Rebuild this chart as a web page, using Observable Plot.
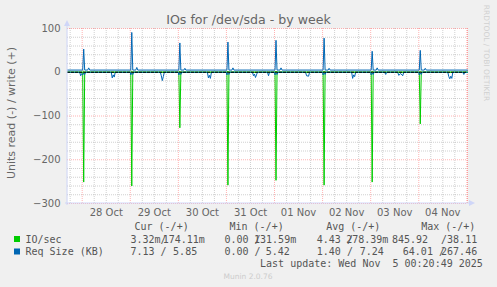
<!DOCTYPE html>
<html>
<head>
<meta charset="utf-8">
<script src="https://cdn.jsdelivr.net/npm/d3@7"></script>
<script src="https://cdn.jsdelivr.net/npm/@observablehq/plot@0.6"></script>
<style>
  html, body { margin: 0; padding: 0; background: #f0f0f0; }
  svg { display: block; }
</style>
</head>
<body>
<div id="chart"></div>
<script>
// ---------- data ----------
const timeStart = "2025-10-27T16:40Z";
const timeEnd = "2025-11-05T00:20Z";
const xTickTimes = ["2025-10-28T12:00Z","2025-10-29T12:00Z","2025-10-30T12:00Z","2025-10-31T12:00Z","2025-11-01T12:00Z","2025-11-02T12:00Z","2025-11-03T12:00Z","2025-11-04T12:00Z"];
const xTickLabels = ["28 Oct","29 Oct","30 Oct","31 Oct","01 Nov","02 Nov","03 Nov","04 Nov"];
const yTicks = [-300, -200, -100, 0, 100];
const yMinorGrid = [-280,-260,-240,-220,-180,-160,-140,-120,-80,-60,-40,-20,20,40,60,80];
const yMajorGrid = [-300,-200,-100,0,100];

// IO/sec read (plotted negative)
const ioRead = [
  ["2025-10-27T16:40Z",0],
  ["2025-10-28T00:15Z",0],["2025-10-28T00:45Z",-251],["2025-10-28T01:15Z",0],
  ["2025-10-29T00:15Z",0],["2025-10-29T00:45Z",-260],["2025-10-29T01:15Z",0],
  ["2025-10-30T00:15Z",0],["2025-10-30T00:45Z",-127],["2025-10-30T01:15Z",0],
  ["2025-10-31T00:15Z",0],["2025-10-31T00:45Z",-258],["2025-10-31T01:15Z",0],
  ["2025-11-01T00:15Z",0],["2025-11-01T00:45Z",-247],["2025-11-01T01:15Z",0],
  ["2025-11-02T00:15Z",0],["2025-11-02T00:45Z",-258],["2025-11-02T01:15Z",0],
  ["2025-11-03T00:15Z",0],["2025-11-03T00:45Z",-251],["2025-11-03T01:15Z",0],
  ["2025-11-04T00:15Z",0],["2025-11-04T00:45Z",-118],["2025-11-04T01:15Z",0],
  ["2025-11-05T00:20Z",0]
];
// IO/sec write (positive)
const ioWrite = [
  ["2025-10-27T16:40Z",0.3],
  ["2025-10-28T00:15Z",0.3],["2025-10-28T00:45Z",2.5],["2025-10-28T01:15Z",0.3],
  ["2025-10-29T00:15Z",0.3],["2025-10-29T00:45Z",2.5],["2025-10-29T01:15Z",0.3],
  ["2025-10-30T00:15Z",0.3],["2025-10-30T00:45Z",2.5],["2025-10-30T01:15Z",0.3],
  ["2025-10-31T00:15Z",0.3],["2025-10-31T00:45Z",2.5],["2025-10-31T01:15Z",0.3],
  ["2025-11-01T00:15Z",0.3],["2025-11-01T00:45Z",2.5],["2025-11-01T01:15Z",0.3],
  ["2025-11-02T00:15Z",0.3],["2025-11-02T00:45Z",2.5],["2025-11-02T01:15Z",0.3],
  ["2025-11-03T00:15Z",0.3],["2025-11-03T00:45Z",2.5],["2025-11-03T01:15Z",0.3],
  ["2025-11-04T00:15Z",0.3],["2025-11-04T00:45Z",2.5],["2025-11-04T01:15Z",0.3],
  ["2025-11-05T00:20Z",0.3]
];
// Req size read (plotted negative)
const reqRead = [
  ["2025-10-27T16:40Z",0],
  ["2025-10-27T22:45Z",0],["2025-10-27T23:15Z",-8],["2025-10-27T23:45Z",-3],["2025-10-28T00:15Z",-6],["2025-10-28T00:45Z",-2],["2025-10-28T01:15Z",-5],["2025-10-28T01:45Z",0],
  ["2025-10-28T14:30Z",0],["2025-10-28T15:00Z",-13],["2025-10-28T15:30Z",-6],["2025-10-28T16:00Z",-11],["2025-10-28T16:30Z",0],
  ["2025-10-29T00:00Z",0],["2025-10-29T00:15Z",-6],["2025-10-29T00:45Z",-2],["2025-10-29T01:15Z",-5],["2025-10-29T01:45Z",0],
  ["2025-10-29T15:00Z",0],["2025-10-29T15:30Z",-8],["2025-10-29T16:00Z",-19],["2025-10-29T16:30Z",-10],["2025-10-29T17:00Z",0],
  ["2025-10-30T00:00Z",0],["2025-10-30T00:15Z",-6],["2025-10-30T00:45Z",-2],["2025-10-30T01:15Z",-5],["2025-10-30T01:45Z",0],
  ["2025-10-30T14:30Z",0],["2025-10-30T15:00Z",-13],["2025-10-30T15:30Z",-7],["2025-10-30T16:00Z",-14],["2025-10-30T16:30Z",0],
  ["2025-10-31T00:00Z",0],["2025-10-31T00:15Z",-6],["2025-10-31T00:45Z",-2],["2025-10-31T01:15Z",-5],["2025-10-31T01:45Z",0],
  ["2025-10-31T13:00Z",0],["2025-10-31T13:30Z",-8],["2025-10-31T14:00Z",-4],["2025-10-31T14:30Z",-12],["2025-10-31T15:00Z",-6],["2025-10-31T15:30Z",0],
  ["2025-10-31T20:30Z",0],["2025-10-31T21:00Z",-8],["2025-10-31T21:30Z",0],
  ["2025-11-01T00:00Z",0],["2025-11-01T00:15Z",-6],["2025-11-01T00:45Z",-2],["2025-11-01T01:15Z",-5],["2025-11-01T01:45Z",0],
  ["2025-11-01T15:30Z",0],["2025-11-01T16:00Z",-8],["2025-11-01T17:00Z",-9],["2025-11-01T17:30Z",0],
  ["2025-11-02T00:00Z",0],["2025-11-02T00:15Z",-6],["2025-11-02T00:45Z",-2],["2025-11-02T01:15Z",-5],["2025-11-02T01:45Z",0],
  ["2025-11-02T14:30Z",0],["2025-11-02T15:00Z",-14],["2025-11-02T15:30Z",-6],["2025-11-02T16:00Z",-10],["2025-11-02T16:30Z",0],
  ["2025-11-03T00:00Z",0],["2025-11-03T00:15Z",-6],["2025-11-03T00:45Z",-2],["2025-11-03T01:15Z",-5],["2025-11-03T01:45Z",0],
  ["2025-11-03T07:00Z",0],["2025-11-03T07:30Z",-5],["2025-11-03T08:00Z",0],
  ["2025-11-03T13:30Z",0],["2025-11-03T14:00Z",-7],["2025-11-03T15:00Z",-3],["2025-11-03T16:00Z",-8],["2025-11-03T16:30Z",0],
  ["2025-11-04T00:00Z",0],["2025-11-04T00:15Z",-6],["2025-11-04T00:45Z",-2],["2025-11-04T01:15Z",-5],["2025-11-04T01:45Z",0],
  ["2025-11-04T14:30Z",0],["2025-11-04T15:00Z",-10],["2025-11-04T15:30Z",-15],["2025-11-04T16:00Z",-9],["2025-11-04T16:30Z",-14],["2025-11-04T17:00Z",0],
  ["2025-11-04T22:00Z",0],["2025-11-04T22:30Z",-5],["2025-11-04T23:00Z",0],
  ["2025-11-05T00:20Z",0]
];
// Req size write (positive)
const reqWrite = [
  ["2025-10-27T16:40Z",5],
  ["2025-10-28T00:15Z",5],["2025-10-28T00:45Z",53],["2025-10-28T01:15Z",5],["2025-10-28T02:45Z",5],["2025-10-28T03:15Z",10],["2025-10-28T03:45Z",5],
  ["2025-10-29T00:15Z",5],["2025-10-29T00:45Z",91],["2025-10-29T01:15Z",5],["2025-10-29T02:45Z",5],["2025-10-29T03:15Z",11],["2025-10-29T03:45Z",5],
  ["2025-10-30T00:15Z",5],["2025-10-30T00:45Z",67],["2025-10-30T01:15Z",5],["2025-10-30T02:45Z",5],["2025-10-30T03:15Z",9],["2025-10-30T03:45Z",5],
  ["2025-10-31T00:15Z",5],["2025-10-31T00:45Z",69],["2025-10-31T01:15Z",5],["2025-10-31T02:45Z",5],["2025-10-31T03:15Z",10],["2025-10-31T03:45Z",5],
  ["2025-11-01T00:15Z",5],["2025-11-01T00:45Z",73],["2025-11-01T01:15Z",5],["2025-11-01T02:45Z",5],["2025-11-01T03:15Z",10],["2025-11-01T03:45Z",5],
  ["2025-11-02T00:15Z",5],["2025-11-02T00:45Z",78],["2025-11-02T01:15Z",5],["2025-11-02T02:45Z",5],["2025-11-02T03:15Z",9],["2025-11-02T03:45Z",5],
  ["2025-11-03T00:15Z",5],["2025-11-03T00:45Z",48],["2025-11-03T01:15Z",5],["2025-11-03T02:45Z",5],["2025-11-03T03:15Z",10],["2025-11-03T03:45Z",5],
  ["2025-11-04T00:15Z",5],["2025-11-04T00:45Z",50],["2025-11-04T01:15Z",5],["2025-11-04T02:45Z",5],["2025-11-04T03:15Z",9],["2025-11-04T03:45Z",5],
  ["2025-11-05T00:20Z",5]
];

// legend texts
const seriesNames = ["IO/sec", "Req Size (KB)"];
const seriesColors = ["#00cc00", "#0066b3"];
const legendHeaders = ["Cur (-/+)", "Min (-/+)", "Avg (-/+)", "Max (-/+)"];
const legendRead = [["3.32m/", "0.00 /", "4.43 /", "845.92"], ["7.13 /", "0.00 /", "1.40 /", "64.01 /"]];
const legendWrite = [["174.11m", "131.59m", "278.39m", "/38.11"], ["5.85", "5.42", "7.24", "267.46"]];
const lastUpdate = "Last update: Wed Nov  5 00:20:49 2025";

// ---------- chart ----------
const T = s => new Date(s);
const start = T(timeStart), end = T(timeEnd);
const minorX = d3.utcHour.every(6).range(start, end).filter(d => d.getUTCHours() !== 0);
const majorX = d3.utcDay.range(start, end);

const lineOpts = (color) => ({x: d => T(d[0]), y: d => d[1], stroke: color, strokeWidth: 1, curve: "linear"});

const chart = Plot.plot({
  width: 497, height: 287,
  marginLeft: 67, marginRight: 30, marginTop: 28, marginBottom: 84,
  style: {fontFamily: "DejaVu Sans", fontSize: "10px", color: "#666", background: "#f0f0f0", overflow: "visible"},
  x: {type: "utc", domain: [start, end]},
  y: {domain: [-300, 100]},
  marks: [
    Plot.frame({fill: "white", stroke: "none"}),
    Plot.ruleY(yMinorGrid, {stroke: "#808080", strokeOpacity: 0.37, strokeDasharray: "1,1"}),
    Plot.ruleX(minorX, {stroke: "#808080", strokeOpacity: 0.37, strokeDasharray: "1,1"}),
    Plot.ruleY(yMajorGrid, {stroke: "#ff0000", strokeOpacity: 0.3, strokeDasharray: "1,1"}),
    Plot.ruleX(majorX, {stroke: "#ff0000", strokeOpacity: 0.3, strokeDasharray: "1,1"}),
    Plot.ruleX([end], {stroke: "#ff0000", strokeOpacity: 0.3, strokeDasharray: "1,1"}),
    Plot.line(ioRead, lineOpts("#00cc00")),
    Plot.line(ioWrite, lineOpts("#00cc00")),
    Plot.line(reqRead, lineOpts("#0066b3")),
    Plot.line(reqWrite, lineOpts("#0066b3")),
    Plot.ruleY([0], {stroke: "#000", strokeWidth: 1, strokeDasharray: "3,1"}),
    Plot.axisY({ticks: yTicks, tickSize: 0, tickPadding: 7, fontSize: 10, label: null, fill: "#666"}),
    Plot.axisX({ticks: xTickTimes.map(T), tickFormat: (d, i) => xTickLabels[i], tickSize: 0, tickPadding: 5, fontSize: 10, label: null, fill: "#666"})
  ]
});

const svg = d3.select(chart);
const x = chart.scale("x"), y = chart.scale("y");
const x0 = x.apply(start), x1 = x.apply(end), yTop = y.apply(100), yBot = y.apply(-300);
const axisCol = "#cfd6f8";
// axes lines + arrows
svg.append("line").attr("x1", x0).attr("x2", x0).attr("y1", yBot + 2).attr("y2", yTop - 5).attr("stroke", axisCol);
svg.append("path").attr("d", `M${x0 - 3},${yTop - 2}L${x0 + 3},${yTop - 2}L${x0},${yTop - 8}Z`).attr("fill", axisCol);
svg.append("line").attr("x1", x0 - 2).attr("x2", x1 + 4).attr("y1", yBot).attr("y2", yBot).attr("stroke", axisCol);
svg.append("path").attr("d", `M${x1 + 2},${yBot - 3}L${x1 + 2},${yBot + 3}L${x1 + 8},${yBot}Z`).attr("fill", axisCol);

// title
svg.append("text").attr("x", 248.5).attr("y", 20).attr("dy", "0.35em").attr("text-anchor", "middle")
  .attr("font-family", "DejaVu Sans").attr("font-size", 12.6).attr("fill", "#666").text("IOs for /dev/sda - by week");
// y label
svg.append("text").attr("transform", "translate(11,113) rotate(-90)").attr("dy", "0.35em").attr("text-anchor", "middle")
  .attr("font-family", "DejaVu Sans").attr("font-size", 11).attr("fill", "#666").text("Units read (-) / write (+)");
// right vertical credit
svg.append("text").attr("transform", "translate(487,53) rotate(90)").attr("dy", "0.35em").attr("text-anchor", "middle")
  .attr("font-family", "DejaVu Sans").attr("font-size", 7.5).attr("fill", "#d0d0d0").text("RRDTOOL / TOBI OETIKER");

// legend
const mono = "DejaVu Sans Mono";
const g = svg.append("g").attr("font-family", mono).attr("font-size", 10).attr("fill", "#555").attr("text-anchor", "start");
const headerX = [135, 230, 326.7, 421.7];
const readX = [[131, 225, 317.3, 392.5], [131, 225, 317.3, 403.3]];
const writeEnd = [[204.3, 295.7, 387.8, 476.7], [196.7, 289.3, 383.3, 476.7]];
const rowY = [239, 251.5];
legendHeaders.forEach((h, i) => g.append("text").attr("x", headerX[i] - 0.5).attr("y", 226.7).attr("dy", "0.35em").style("white-space", "pre").text(h));
seriesNames.forEach((n, r) => {
  svg.append("rect").attr("x", 14).attr("y", rowY[r] - 3).attr("width", 6).attr("height", 6).attr("fill", seriesColors[r]);
  g.append("text").attr("x", 25.5).attr("y", rowY[r]).attr("dy", "0.35em").text(n);
  for (let c = 0; c < 4; c++) {
    g.append("text").attr("x", readX[r][c] - 0.5).attr("y", rowY[r]).attr("dy", "0.35em").style("white-space", "pre").text(legendRead[r][c]);
    g.append("text").attr("x", writeEnd[r][c] + 0.5).attr("y", rowY[r]).attr("dy", "0.35em").attr("text-anchor", "end").text(legendWrite[r][c]);
  }
});
g.append("text").attr("x", 482.8).attr("y", 263.3).attr("dy", "0.35em").attr("text-anchor", "end").style("white-space", "pre").text(lastUpdate);
svg.append("text").attr("x", 248).attr("y", 276.7).attr("dy", "0.35em").attr("text-anchor", "middle")
  .attr("font-family", "DejaVu Sans").attr("font-size", 7.5).attr("fill", "#cccccc").text("Munin 2.0.76");

document.getElementById("chart").appendChild(chart);
</script>
</body>
</html>
